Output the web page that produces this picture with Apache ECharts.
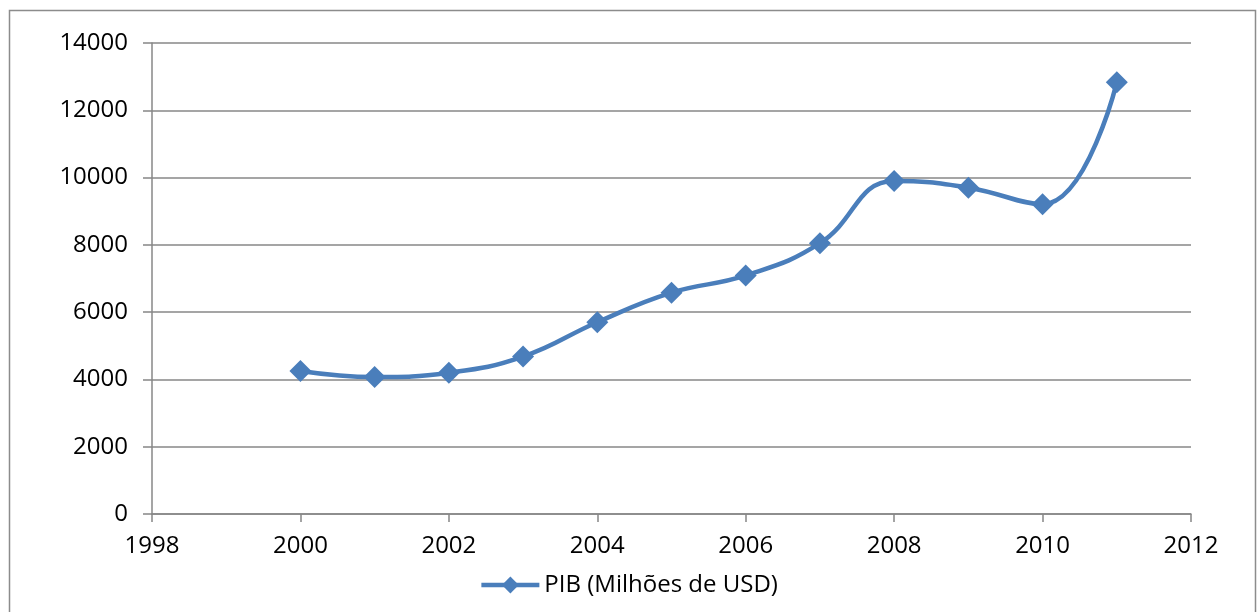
<!DOCTYPE html>
<html>
<head>
<meta charset="utf-8">
<script src="https://cdn.jsdelivr.net/npm/echarts@6/dist/echarts.min.js"></script>
<style>
  html, body { margin: 0; padding: 0; background: #fff; }
  #chart { width: 1257px; height: 612px; }
</style>
</head>
<body>
<div id="chart"></div>
<script>
// anos e PIB (milhões de USD)
const years = [2000, 2001, 2002, 2003, 2004, 2005, 2006, 2007, 2008, 2009, 2010, 2011];
const pib = [4250, 4070, 4200, 4680, 5700, 6580, 7090, 8050, 9900, 9700, 9210, 12830];
const seriesName = 'PIB (Milhões de USD)';

function drawChart() {
    let chartDom = document.getElementById('chart');
    let myChart = echarts.init(chartDom);
    const axisColor = '#878787';
    const font = 'Open Sans';

    let option = {
        animation: false,
        textStyle: { fontFamily: font },
        graphic: [
            {
                type: 'rect',
                shape: { x: 9.5, y: 10.5, width: 1246, height: 610 },
                style: { fill: 'none', stroke: '#8c8c8c', lineWidth: 1.5 },
                silent: true
            }
        ],
        grid: { left: 152, right: 66, top: 43, bottom: 98 },
        xAxis: {
            type: 'value',
            min: 1998,
            max: 2012,
            interval: 2,
            axisLine: { show: true, onZero: false, lineStyle: { color: axisColor, width: 1.5 } },
            axisTick: { show: true, length: 8, lineStyle: { color: axisColor, width: 1.5 } },
            splitLine: { show: false },
            axisLabel: { color: '#000', fontSize: 24, fontFamily: font, margin: 20, formatter: (v) => String(v) }
        },
        yAxis: {
            type: 'value',
            min: 0,
            max: 14000,
            interval: 2000,
            axisLine: { show: true, lineStyle: { color: axisColor, width: 1.5 } },
            axisTick: { show: true, length: 9, lineStyle: { color: axisColor, width: 1.5 } },
            splitLine: { show: true, lineStyle: { color: axisColor, width: 1.5 } },
            axisLabel: { color: '#000', fontSize: 24, fontFamily: font, margin: 24, formatter: (v) => String(v) }
        },
        legend: {
            bottom: 10,
            left: 'center',
            itemWidth: 58,
            itemHeight: 21,
            itemGap: 2,
            lineStyle: { width: 4.5 },
            textStyle: { color: '#000', fontSize: 24, fontFamily: font },
            data: [seriesName]
        },
        series: [
            {
                name: seriesName,
                type: 'line',
                smooth: 0.45,
                data: years.map((y, i) => [y, pib[i]]),
                symbol: 'diamond',
                symbolSize: 22,
                itemStyle: { color: '#4a7ebb' },
                lineStyle: { color: '#4a7ebb', width: 4.5 }
            }
        ]
    };

    myChart.setOption(option);
}

drawChart();
</script>
</body>
</html>
